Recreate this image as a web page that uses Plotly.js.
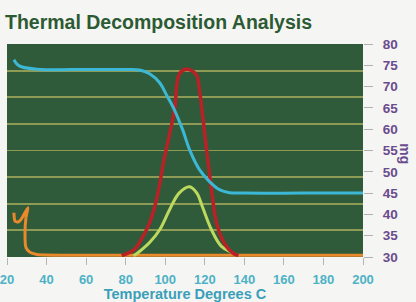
<!DOCTYPE html>
<html>
<head>
<meta charset="utf-8">
<script src="https://cdn.plot.ly/plotly-3.0.1.min.js"></script>
<style>html,body{margin:0;padding:0;background:#f5f5f3;}#chart{width:416px;height:302px;}</style>
</head>
<body>
<div id="chart"></div>
<script>
// Mass (TGA) curve
const massT = [23.5, 25, 27.6, 35, 60, 80, 87, 92.1, 97.2, 100.7, 104.7, 108.8, 112.3, 117.3, 122.4, 127.4, 132.5, 140, 170, 200];
const massV = [76.3, 75.3, 74.6, 74.1, 74, 74, 73.9, 73, 70.9, 68, 64.5, 59.9, 55.2, 50.5, 47.7, 45.8, 45.1, 45, 45, 45];
// Large peak (red)
const redT = [78, 84.5, 87, 92.1, 95.6, 99.7, 104.7, 107.2, 111.3, 115.8, 117.3, 120.9, 123.4, 125.9, 128.5, 130.9, 134, 137];
const redV = [30.3, 31.8, 33.4, 38, 43.5, 53.5, 64.5, 73, 74.1, 72.7, 69.2, 55.2, 45.8, 38, 34.5, 32.5, 31, 30.3];
// Small peak (green)
const greenT = [84, 87, 92.1, 97.2, 102.2, 107, 112.3, 116, 118.8, 123.4, 128.4, 134, 136];
const greenV = [30.3, 31.3, 33.4, 36.4, 41.1, 45, 46.5, 45, 41.8, 36.4, 32.5, 31.0, 30.4];
// Baseline (orange)
const orangeT = [23.5, 24.0, 25.5, 27.1, 30.6, 29.6, 29.1, 29.6, 31.6, 35.1, 60, 100, 150, 200];
const orangeV = [40.4, 38.5, 38.2, 38.8, 41.6, 39.3, 35.3, 32.2, 31.1, 30.6, 30.4, 30.4, 30.4, 30.4];
const xTicks = [20, 40, 60, 80, 100, 120, 140, 160, 180, 200];
const yTicks = [30, 35, 40, 45, 50, 55, 60, 65, 70, 75, 80];

const FAM = 'Liberation Sans, Arial, sans-serif';

const traces = [
  {x: orangeT, y: orangeV, mode: 'lines', line: {color: '#e8892c', width: 3, shape: 'spline', smoothing: 0.6}, hoverinfo: 'skip'},
  {x: greenT, y: greenV, mode: 'lines', line: {color: '#bcd95e', width: 3, shape: 'spline'}, hoverinfo: 'skip'},
  {x: redT, y: redV, mode: 'lines', line: {color: '#b82126', width: 3.5, shape: 'spline'}, hoverinfo: 'skip'},
  {x: massT, y: massV, mode: 'lines', line: {color: '#3cb8d6', width: 3, shape: 'spline'}, hoverinfo: 'skip'},
  {x: [], y: [], yaxis: 'y2', mode: 'lines', hoverinfo: 'skip'}
];

const layout = {
  width: 416, height: 302,
  margin: {l: 7, r: 53, t: 44, b: 45},
  paper_bgcolor: '#f5f5f3',
  plot_bgcolor: '#305b3a',
  showlegend: false,
  title: {
    text: 'Thermal Decomposition Analysis',
    font: {family: FAM, size: 19.5, color: '#2c5a33', weight: 'bold'},
    x: 0.012, xanchor: 'left', xref: 'container',
    y: 0.925, yanchor: 'middle', yref: 'container'
  },
  xaxis: {
    range: [20, 200], tickmode: 'array', tickvals: xTicks, ticktext: xTicks.map(String),
    ticks: 'outside', ticklen: 7, tickcolor: '#b5b5b5', tickwidth: 1,
    ticklabeloverflow: 'allow', ticklabelstandoff: 3,
    showgrid: false, zeroline: false, showline: false,
    tickfont: {family: FAM, size: 13, color: '#4db2c6', weight: 'bold'},
    title: {text: 'Temperature Degrees C', standoff: 13,
      font: {family: FAM, size: 14.5, color: '#3a9fb8', weight: 'bold'}}
  },
  yaxis: {
    range: [30, 80], side: 'right', tickmode: 'array', tickvals: yTicks, ticktext: yTicks.map(String),
    ticks: 'outside', ticklen: 9, tickcolor: '#b0b0b0', tickwidth: 1,
    ticklabeloverflow: 'allow', ticklabelstandoff: 7,
    showgrid: false, zeroline: false, showline: false,
    tickfont: {family: FAM, size: 13.5, color: '#6a4b8e', weight: 'bold'}
  },
  yaxis2: {
    range: [0, 8], overlaying: 'y', side: 'left', dtick: 1, tick0: 0,
    showgrid: true, gridcolor: '#8e9b55', gridwidth: 1.8,
    showticklabels: false, ticks: '', zeroline: false, showline: false
  },
  annotations: [{
    text: 'mg', xref: 'paper', yref: 'paper', x: 1.145, y: 0.484,
    showarrow: false, textangle: 90,
    font: {family: FAM, size: 14, color: '#6a4b8e', weight: 'bold'}
  }]
};

Plotly.newPlot('chart', traces, layout, {staticPlot: true, displayModeBar: false});
</script>
</body>
</html>
